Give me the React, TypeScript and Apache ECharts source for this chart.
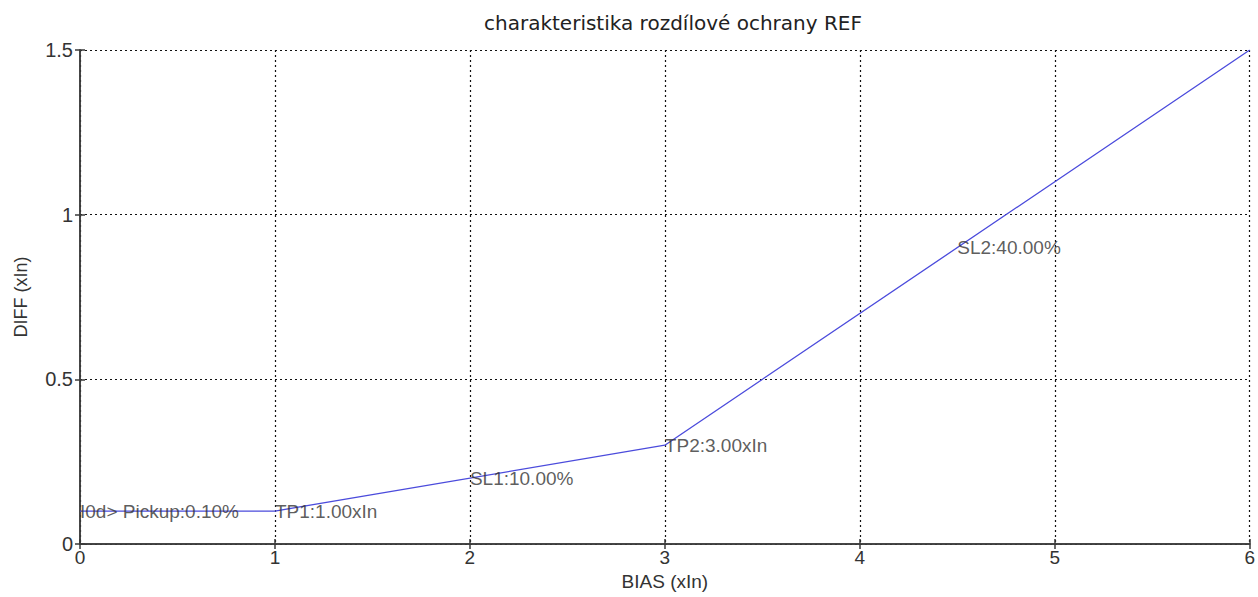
import React, { useEffect, useRef } from "react";
import * as echarts from "echarts";

const curveX = [0, 1, 3, 6];
const curveY = [0.1, 0.1, 0.3, 1.5];
const labelPoints: [number, number, string][] = [
  [0, 0.1, "I0d> Pickup:0.10%"],
  [1, 0.1, "TP1:1.00xIn"],
  [2, 0.2, "SL1:10.00%"],
  [3, 0.3, "TP2:3.00xIn"],
  [4.5, 0.9, "SL2:40.00%"],
];
const titleText = "charakteristika rozdílové ochrany REF";
const xName = "BIAS (xIn)";
const yName = "DIFF (xIn)";

const FONT = "Arial, 'Liberation Sans', sans-serif";
const TITLE_FONT = "'DejaVu Sans', Verdana, sans-serif";

export default function App() {
  const ref = useRef<HTMLDivElement>(null);
  useEffect(() => {
    if (!ref.current) return;
    const chart = echarts.init(ref.current, undefined, { renderer: "svg" });
    const axisLine = { show: true, lineStyle: { color: "#3a3a3a", width: 1.5 } };
    const tick = { show: true, inside: true, length: 5, lineStyle: { color: "#3a3a3a", width: 1.5 } };
    const split = { show: true, lineStyle: { color: "#111", type: [2, 3] as any, width: 1.2 } };
    chart.setOption({
      animation: false,
      backgroundColor: "#fff",
      title: {
        text: titleText,
        left: 668,
        textAlign: "center",
        top: 8,
        textStyle: { fontFamily: TITLE_FONT, fontSize: 20, fontWeight: "normal", color: "#222" },
      },
      grid: { left: 80, right: 4, top: 50, bottom: 53, containLabel: false },
      xAxis: [
        {
          type: "value", min: 0, max: 6, interval: 1, position: "bottom",
          name: xName, nameLocation: "middle", nameGap: 25,
          nameTextStyle: { fontFamily: FONT, fontSize: 19, color: "#333" },
          axisLine, axisTick: tick, splitLine: split,
          axisLabel: { fontFamily: FONT, fontSize: 19, color: "#333", margin: 4 },
        },
        {
          type: "value", min: 0, max: 6, interval: 1, position: "top",
          axisLine, axisTick: tick, splitLine: { show: false }, axisLabel: { show: false },
        },
      ],
      yAxis: [
        {
          type: "value", min: 0, max: 1.5, interval: 0.5, position: "left",
          name: yName, nameLocation: "middle", nameGap: 50, nameRotate: 90,
          nameTextStyle: { fontFamily: FONT, fontSize: 18, color: "#333" },
          axisLine, axisTick: tick, splitLine: split,
          axisLabel: { fontFamily: FONT, fontSize: 20, color: "#333", margin: 7 },
        },
        {
          type: "value", min: 0, max: 1.5, interval: 0.5, position: "right",
          axisLine, axisTick: tick, splitLine: { show: false }, axisLabel: { show: false },
        },
      ],
      series: [
        {
          type: "line",
          data: curveX.map((x, i) => [x, curveY[i]]),
          symbol: "none",
          lineStyle: { color: "#4b4bdc", width: 1.3 },
          z: 3,
        },
        {
          type: "scatter",
          symbolSize: 0,
          clip: false,
          data: labelPoints.map((p) => ({ value: [p[0], p[1]], name: p[2] })),
          label: {
            show: true, position: "right", distance: 0, formatter: "{b}",
            fontFamily: FONT, fontSize: 19, color: "#333",
          },
          z: 4,
        },
      ],
    });
    return () => chart.dispose();
  }, []);
  return (
    <div
      ref={ref}
      style={{ position: "fixed", left: 0, top: 0, width: 1258, height: 597, background: "#fff" }}
    />
  );
}
